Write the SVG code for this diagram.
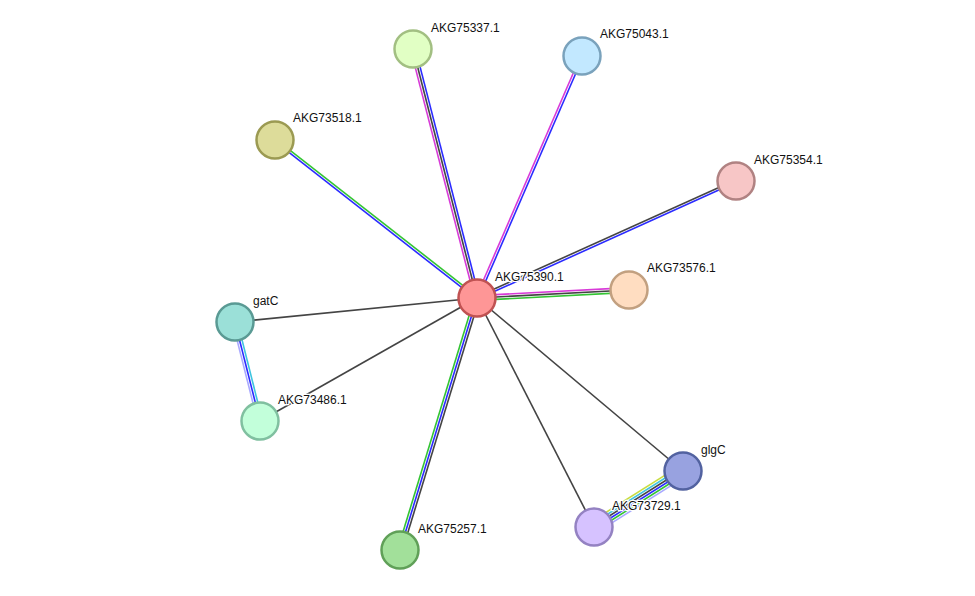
<svg xmlns="http://www.w3.org/2000/svg" width="975" height="596" viewBox="0 0 975 596">
<style>
.e{stroke-width:1.6;fill:none}
.k{stroke:#444444}.b{stroke:#2b2bff}.m{stroke:#d83ad8}.g{stroke:#33c433}.c{stroke:#3ec4e0}.l{stroke:#a9a9ff}.y{stroke:#c8dc40}
circle{stroke-width:2.5}
text{font-family:"Liberation Sans",Arial,sans-serif;font-size:12px;fill:#111;stroke:#fff;stroke-width:2.5;paint-order:stroke;stroke-linejoin:round}
</style>
<rect width="975" height="596" fill="#fff"/>
<g id="edges">
<line class="e m" x1="474.68" y1="298.6" x2="410.68" y2="49.6"/>
<line class="e k" x1="477" y1="298" x2="413" y2="49"/>
<line class="e b" x1="479.32" y1="297.4" x2="415.32" y2="48.4"/>
<line class="e m" x1="475.9" y1="297.52" x2="580.9" y2="55.52"/>
<line class="e b" x1="478.1" y1="298.48" x2="583.1" y2="56.48"/>
<line class="e g" x1="477.74" y1="297.05" x2="275.74" y2="139.05"/>
<line class="e b" x1="476.26" y1="298.95" x2="274.26" y2="140.95"/>
<line class="e k" x1="476.51" y1="296.91" x2="735.51" y2="179.91"/>
<line class="e b" x1="477.49" y1="299.09" x2="736.49" y2="182.09"/>
<line class="e m" x1="476.87" y1="295.6" x2="628.87" y2="287.6"/>
<line class="e k" x1="477" y1="298" x2="629" y2="290"/>
<line class="e g" x1="477.13" y1="300.4" x2="629.13" y2="292.4"/>
<line class="e k" x1="477" y1="298" x2="235" y2="322"/>
<line class="e k" x1="477" y1="298" x2="260" y2="421"/>
<line class="e g" x1="474.7" y1="297.3" x2="397.7" y2="549.3"/>
<line class="e b" x1="477" y1="298" x2="400" y2="550"/>
<line class="e k" x1="479.3" y1="298.7" x2="402.3" y2="550.7"/>
<line class="e k" x1="477" y1="298" x2="594" y2="527"/>
<line class="e k" x1="477" y1="298" x2="683" y2="471"/>
<line class="e l" x1="232.67" y1="322.59" x2="257.67" y2="421.59"/>
<line class="e b" x1="235" y1="322" x2="260" y2="421"/>
<line class="e c" x1="237.33" y1="321.41" x2="262.33" y2="420.41"/>
<line class="e y" x1="679.81" y1="465.92" x2="590.81" y2="521.92"/>
<line class="e c" x1="681.08" y1="467.95" x2="592.08" y2="523.95"/>
<line class="e k" x1="682.36" y1="469.98" x2="593.36" y2="525.98"/>
<line class="e b" x1="683.64" y1="472.02" x2="594.64" y2="528.02"/>
<line class="e g" x1="684.92" y1="474.05" x2="595.92" y2="530.05"/>
<line class="e l" x1="686.19" y1="476.08" x2="597.19" y2="532.08"/>
</g>
<g id="n_AKG75390"><circle cx="477" cy="298" r="18.5" fill="#fe9696" stroke="#c05252"/><text x="495" y="281">AKG75390.1</text></g>
<g id="n_AKG75337"><circle cx="413" cy="49" r="18.5" fill="#e1ffc4" stroke="#a2bf82"/><text x="431" y="32">AKG75337.1</text></g>
<g id="n_AKG75043"><circle cx="582" cy="56" r="18.5" fill="#c2e8ff" stroke="#7aa2bc"/><text x="600" y="38">AKG75043.1</text></g>
<g id="n_AKG73518"><circle cx="275" cy="140" r="18.5" fill="#dddc9a" stroke="#9b9a52"/><text x="293" y="122">AKG73518.1</text></g>
<g id="n_AKG75354"><circle cx="736" cy="181" r="18.5" fill="#f7c6c6" stroke="#b08282"/><text x="754" y="164">AKG75354.1</text></g>
<g id="n_AKG73576"><circle cx="629" cy="290" r="18.5" fill="#ffddc1" stroke="#c2a080"/><text x="647" y="272">AKG73576.1</text></g>
<g id="n_gatC"><circle cx="235" cy="322" r="18.5" fill="#9be0d8" stroke="#5a9a94"/><text x="253" y="305">gatC</text></g>
<g id="n_AKG73486"><circle cx="260" cy="421" r="18.5" fill="#c2ffda" stroke="#80c0a0"/><text x="278" y="404">AKG73486.1</text></g>
<g id="n_AKG75257"><circle cx="400" cy="550" r="18.5" fill="#a2e09a" stroke="#60a058"/><text x="418" y="533">AKG75257.1</text></g>
<g id="n_glgC"><circle cx="683" cy="471" r="18.5" fill="#98a2e0" stroke="#5262a0"/><text x="701" y="454">glgC</text></g>
<g id="n_AKG73729"><circle cx="594" cy="527" r="18.5" fill="#d6c2ff" stroke="#9482c2"/><text x="612" y="510">AKG73729.1</text></g>
</svg>
